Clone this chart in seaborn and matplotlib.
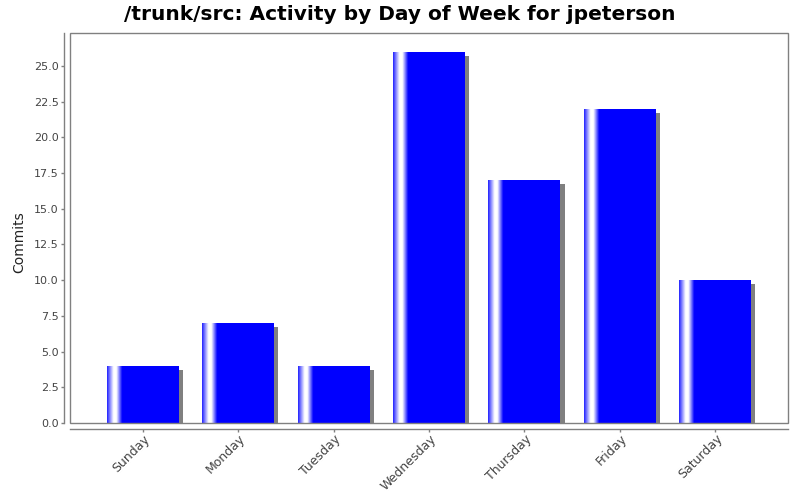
import numpy as np
import pandas as pd
import matplotlib
matplotlib.use("Agg")
import matplotlib.pyplot as plt
import matplotlib.patheffects as pe
from matplotlib.patches import Rectangle
from matplotlib.colors import LinearSegmentedColormap
from matplotlib.transforms import ScaledTranslation
import seaborn as sns

# Data
days = ["Sunday", "Monday", "Tuesday", "Wednesday", "Thursday", "Friday", "Saturday"]
commits = [4, 7, 4, 26, 17, 22, 10]
yticks = [0.0, 2.5, 5.0, 7.5, 10.0, 12.5, 15.0, 17.5, 20.0, 22.5, 25.0]

df = pd.DataFrame({"day": days, "commits": commits})

sns.set_style("white")
plt.rcParams["font.family"] = ["DejaVu Sans"]

fig = plt.figure(figsize=(8, 5), dpi=100)
ax = fig.add_axes([0.0875, 0.154, 0.8975, 0.78])

sns.barplot(x="day", y="commits", data=df, color="#0000ff", width=0.754,
            saturation=1, linewidth=0, ax=ax, zorder=2)

# bar shadow + left-edge gradient like the original
grad = LinearSegmentedColormap.from_list(
    "shine", [(0, "#2020ff"), (0.09, "#ffffff"), (0.13, "#ffffff"),
              (0.21, "#0000ff"), (1, "#0000ff")])
g = np.linspace(0, 1, 256).reshape(1, -1)
for p in ax.patches:
    p.set_path_effects([pe.SimplePatchShadow(offset=(2.9, -2.9), shadow_rgbFace="#808080",
                                             alpha=1.0), pe.Normal()])
    x0, w, h = p.get_x(), p.get_width(), p.get_height()
    im = ax.imshow(g, cmap=grad, aspect="auto", extent=(x0, x0 + w, 0, h),
                   interpolation="bilinear", zorder=3)
    im.set_clip_path(p)

ax.set_xlim(-0.76, 6.76)
ax.set_ylim(0, 27.3)
ax.set_yticks(yticks)
ax.set_yticklabels([f"{t:.1f}" for t in yticks])

# frame plus offset axis lines
for s in ["top", "right"]:
    ax.spines[s].set_visible(False)
for s in ["left", "bottom"]:
    ax.spines[s].set_position(("outward", 4))
    ax.spines[s].set_color("#808080")
    ax.spines[s].set_linewidth(1)
ax.add_patch(Rectangle((0, 0), 1, 1, transform=ax.transAxes, fill=False,
                       edgecolor="#808080", linewidth=1, zorder=5, clip_on=False))

ax.tick_params(axis="both", direction="out", length=2, width=1, color="#808080",
               labelcolor="#444444", pad=2)
ax.tick_params(axis="y", left=True, labelsize=8)
ax.tick_params(axis="x", bottom=True, labelsize=9, pad=4)
shift = ScaledTranslation(5 / 100, 0, fig.dpi_scale_trans)
for lbl in ax.get_xticklabels():
    lbl.set_rotation(45)
    lbl.set_ha("right")
    lbl.set_va("center")
    lbl.set_rotation_mode("anchor")
    lbl.set_transform(lbl.get_transform() + shift)

ax.set_xlabel("")
ax.set_ylabel("Commits", fontsize=10, color="#222222")
ax.yaxis.set_label_coords(-0.061, 0.464)
fig.suptitle("/trunk/src: Activity by Day of Week for jpeterson", fontsize=14.5,
             fontweight="bold", color="black", y=0.99)

fig.savefig("out.png", dpi=100, facecolor="white")
